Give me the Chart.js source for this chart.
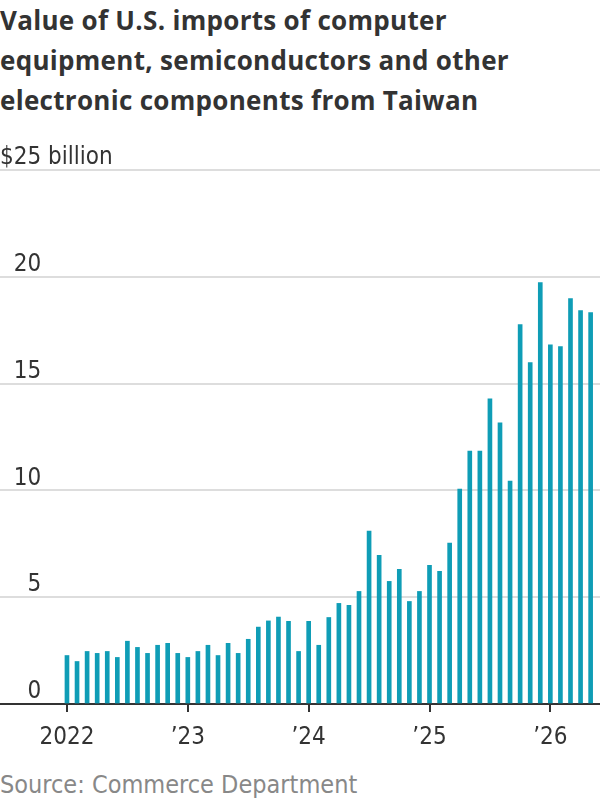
<!DOCTYPE html>
<html>
<head>
<meta charset="utf-8">
<script src="https://cdn.jsdelivr.net/npm/chart.js@4"></script>
<style>
  html, body { margin: 0; padding: 0; background: #fff; }
  body { width: 600px; height: 800px; position: relative; overflow: hidden; }
  #title {
    position: absolute; left: 0; top: 0; margin: 0;
    font: 700 26px "Open Sans", "Liberation Sans", sans-serif;
    line-height: 40px; color: #333; letter-spacing: 0.3px;
  }
  #wrap { position: absolute; left: 0; top: 120px; width: 600px; height: 640px; }
  #source {
    position: absolute; left: 0; top: 770px; margin: 0;
    font: 25px "Liberation Sans Narrow", "DejaVu Sans Condensed", sans-serif;
    color: #888;
  }
</style>
</head>
<body>
<h1 id="title">Value of U.S. imports of computer<br>equipment, semiconductors and other<br>electronic components from Taiwan</h1>
<div id="wrap"><canvas id="chart"></canvas></div>
<p id="source">Source: Commerce Department</p>
<script>
// monthly import values, $ billion, Jan 2022 - May 2026
const values2022 = [2.27, 1.99, 2.46, 2.37, 2.46, 2.18, 2.94, 2.65, 2.37, 2.75, 2.84, 2.37];
const values2023 = [2.18, 2.46, 2.75, 2.27, 2.84, 2.37, 3.03, 3.60, 3.89, 4.07, 3.87, 2.46];
const values2024 = [3.87, 2.75, 4.05, 4.71, 4.62, 5.27, 8.09, 6.96, 5.74, 6.30, 4.80, 5.27];
const values2025 = [6.49, 6.21, 7.53, 10.06, 11.84, 11.84, 14.29, 13.16, 10.44, 17.76, 15.98, 19.73];
const values2026 = [16.82, 16.73, 18.98, 18.42, 18.33];
const values = [...values2022, ...values2023, ...values2024, ...values2025, ...values2026];

const years = [2022, 2023, 2024, 2025, 2026];
const yearLabels = ['2022', '\u201923', '\u201924', '\u201925', '\u201926'];
const yTicks = [0, 5, 10, 15, 20, 25];
const yLabels = ['\u2007\u20070', '\u2007\u20075', '\u200710', '\u200715', '\u200720', '$25 billion'];

const monthNames = ['Jan', 'Feb', 'Mar', 'Apr', 'May', 'Jun', 'Jul', 'Aug', 'Sep', 'Oct', 'Nov', 'Dec'];
const months = values.map((v, i) => monthNames[i % 12] + ' ' + (years[0] + Math.floor(i / 12)));

const narrow = '"Liberation Sans Narrow", "DejaVu Sans Condensed", sans-serif';

new Chart(document.getElementById('chart'), {
  type: 'bar',
  data: {
    datasets: [{
      label: 'Imports',
      data: values.map((v, i) => ({ x: i, y: v, month: months[i] })),
      backgroundColor: '#0f9db6',
      barThickness: 4
    }]
  },
  options: {
    responsive: true,
    maintainAspectRatio: false,
    animation: false,
    layout: { padding: { top: 50, left: 0, right: 0, bottom: 0 } },
    plugins: { legend: { display: false }, tooltip: { enabled: false } },
    scales: {
      x: {
        type: 'linear',
        offset: false,
        min: -6.65,
        max: 52.93,
        afterBuildTicks: (axis) => { axis.ticks = years.map((y, i) => ({ value: i * 12 })); },
        afterFit: (axis) => { axis.height = 56; },
        ticks: {
          callback: (val) => yearLabels[Math.round(val / 12)],
          color: '#333',
          font: { family: narrow, size: 24 },
          padding: 11,
          maxRotation: 0,
          autoSkip: false
        },
        grid: { offset: false, drawOnChartArea: false, drawTicks: true, tickLength: 8, color: '#333', lineWidth: 2 },
        border: { color: '#333', width: 2 }
      },
      y: {
        min: 0,
        max: 25,
        afterBuildTicks: (axis) => { axis.ticks = yTicks.map(v => ({ value: v })); },
        afterFit: (axis) => { axis.width = 0; },
        ticks: {
          mirror: true,
          crossAlign: 'near',
          padding: 0,
          labelOffset: -12,
          callback: (val) => yLabels[yTicks.indexOf(val)],
          color: '#333',
          font: { family: narrow, size: 24 }
        },
        grid: { color: '#ddd', lineWidth: 2, drawTicks: false },
        border: { display: false }
      }
    }
  }
});
</script>
</body>
</html>
